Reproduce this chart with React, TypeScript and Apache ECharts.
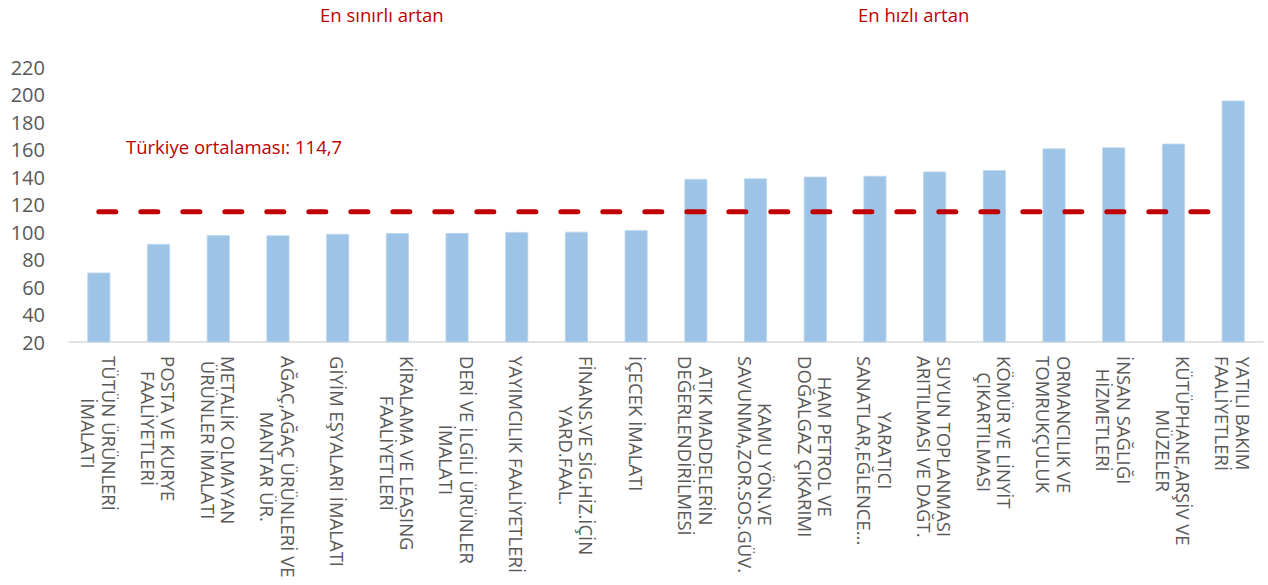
import React, { useEffect, useRef } from "react";
import * as echarts from "echarts";

const categories: string[] = [
  "TÜTÜN ÜRÜNLERİ\nİMALATI",
  "POSTA VE KURYE\nFAALİYETLERİ",
  "METALİK OLMAYAN\nÜRÜNLER İMALATI",
  "AĞAÇ,AĞAÇ ÜRÜNLERİ VE\nMANTAR ÜR.",
  "GİYİM EŞYALARI İMALATI",
  "KİRALAMA VE LEASING\nFAALİYETLERİ",
  "DERİ VE İLGİLİ ÜRÜNLER\nİMALATI",
  "YAYIMCILIK FAALİYETLERİ",
  "FİNANS.VE SİG.HİZ.İÇİN\nYARD.FAAL.",
  "İÇECEK İMALATI",
  "ATIK MADDELERİN\nDEĞERLENDİRİLMESİ",
  "KAMU YÖN.VE\nSAVUNMA,ZOR.SOS.GÜV.",
  "HAM PETROL VE\nDOĞALGAZ ÇIKARIMI",
  "YARATICI\nSANATLAR,EĞLENCE...",
  "SUYUN TOPLANMASI\nARITILMASI VE DAĞT.",
  "KÖMÜR VE LİNYİT\nÇIKARTILMASI",
  "ORMANCILIK VE\nTOMRUKÇULUK",
  "İNSAN SAĞLIĞI\nHİZMETLERİ",
  "KÜTÜPHANE,ARŞİV VE\nMÜZELER",
  "YATILI BAKIM\nFAALİYETLERİ",
];

const values: number[] = [
  70.5, 91.3, 97.7, 97.6, 98.6, 99.2, 99.3, 100.0, 100.2, 101.3,
  138.6, 139.0, 140.3, 140.8, 144.0, 145.0, 160.8, 161.5, 164.3, 195.6,
];

const turkeyAverage = 114.7;
const averageLinePoints: [number, number][] = [
  [0, turkeyAverage],
  [18.7, turkeyAverage],
];

const yTicks = { min: 20, max: 220, interval: 20 };

const titleLeft = "En sınırlı artan";
const titleRight = "En hızlı artan";
const averageLabel = "Türkiye ortalaması: 114,7";

const FONT = "'Open Sans', sans-serif";
const RED = "#C00000";
const GREY = "#595959";

export default function App() {
  const ref = useRef<HTMLDivElement>(null);

  useEffect(() => {
    if (!ref.current) return;
    const chart = echarts.init(ref.current, undefined, { renderer: "svg" });
    chart.setOption({
      animation: false,
      backgroundColor: "#ffffff",
      textStyle: { fontFamily: FONT },
      grid: { left: 69, right: 5, top: 67, bottom: 243, containLabel: false },
      xAxis: [
        {
          type: "category",
          data: categories,
          axisLine: { lineStyle: { color: "#D9D9D9", width: 1.5 } },
          axisTick: { show: false },
          axisLabel: {
            interval: 0,
            rotate: -90,
            margin: 14,
            color: GREY,
            fontFamily: FONT,
            fontSize: 18.5,
            lineHeight: 20.5,
            formatter: (v: string) =>
              v
                .split("\n")
                .map((l) => "{c|" + l + "}")
                .join("\n"),
            rich: {
              c: {
                align: "center",
                color: GREY,
                fontFamily: FONT,
                fontSize: 18.5,
                lineHeight: 20.5,
              },
            },
          },
        },
        {
          type: "value",
          min: -0.5,
          max: 19.5,
          show: false,
        },
      ],
      yAxis: {
        type: "value",
        min: yTicks.min,
        max: yTicks.max,
        interval: yTicks.interval,
        splitLine: { show: false },
        axisLine: { show: false },
        axisTick: { show: false },
        axisLabel: {
          color: GREY,
          fontFamily: FONT,
          fontSize: 20,
          margin: 24,
        },
      },
      series: [
        {
          type: "bar",
          data: values,
          barWidth: 23,
          itemStyle: { color: "#9DC3E6", borderColor: "#BDD7EE", borderWidth: 0.8 },
          z: 2,
        },
        {
          type: "line",
          xAxisIndex: 1,
          data: averageLinePoints,
          symbol: "none",
          lineStyle: { color: RED, width: 5, type: [17, 25], cap: "round" },
          z: 3,
        },
      ],
      graphic: [
        {
          type: "text",
          left: 383 - 63,
          top: 5,
          style: { text: titleLeft, fill: RED, font: "18.5px " + FONT },
        },
        {
          type: "text",
          left: 915 - 57,
          top: 5,
          style: { text: titleRight, fill: RED, font: "18.5px " + FONT },
        },
        {
          type: "text",
          left: 126,
          top: 137,
          style: { text: averageLabel, fill: RED, font: "18.5px " + FONT },
        },
      ],
    });
    return () => chart.dispose();
  }, []);

  return (
    <div
      ref={ref}
      style={{ position: "absolute", left: 0, top: 0, width: 1268, height: 585 }}
    />
  );
}
